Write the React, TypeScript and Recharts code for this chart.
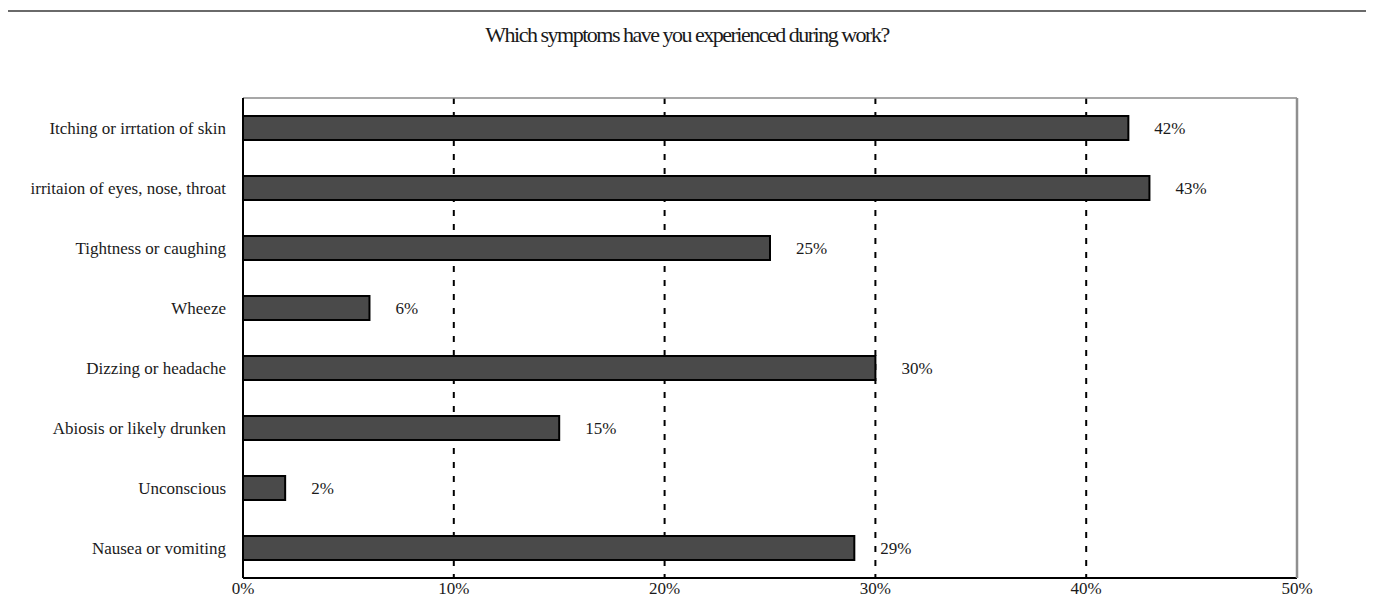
import React from "react";
import { BarChart, Bar, XAxis, YAxis, CartesianGrid, LabelList } from "recharts";

const symptoms = [
  "Itching or irrtation of skin",
  "irritaion of eyes, nose, throat",
  "Tightness or caughing",
  "Wheeze",
  "Dizzing or headache",
  "Abiosis or likely drunken",
  "Unconscious",
  "Nausea or vomiting",
];
const shares = [42, 43, 25, 6, 30, 15, 2, 29];
const percentTicks = [0, 10, 20, 30, 40, 50];
const bandEdges = [0, 1, 2, 3, 4, 5, 6, 7, 8];

const data = symptoms.map((name, i) => ({ name, value: shares[i] }));

const serif = "'Liberation Serif', 'Times New Roman', serif";
const pct = (v: number) => `${v}%`;
const textStyle = { fill: "#1a1a1a", fontFamily: serif, fontSize: 17 };

export default function SymptomsChart() {
  return (
    <div
      style={{
        position: "relative",
        width: 1374,
        height: 600,
        margin: "-8px 0 0 -8px",
        background: "#fff",
        overflow: "hidden",
        fontFamily: serif,
      }}
    >
      <div
        style={{
          position: "absolute",
          left: 6,
          top: 10,
          width: 1359,
          height: 600,
          border: "2px solid #6a6a6a",
        }}
      />
      <div
        style={{
          position: "absolute",
          top: 22,
          left: 0,
          width: 1374,
          textAlign: "center",
          fontSize: 22,
          letterSpacing: -1.5,
          color: "#1a1a1a",
        }}
      >
        Which symptoms have you experienced during work?
      </div>
      <BarChart
        width={1374}
        height={600}
        data={data}
        layout="vertical"
        margin={{ top: 98, right: 77, bottom: 0, left: 0 }}
        style={{ position: "absolute", left: 0, top: 0, fontFamily: serif }}
      >
        {/* dashed guides at every percent step; the ends sit under the axis lines */}
        <CartesianGrid horizontal={false} stroke="#000" strokeWidth={2} strokeDasharray="6 8" />
        <XAxis
          type="number"
          domain={[0, 50]}
          ticks={percentTicks}
          tickFormatter={pct}
          height={22}
          axisLine={{ stroke: "#000", strokeWidth: 2 }}
          tickLine={false}
          tickSize={0}
          tickMargin={4}
          tick={textStyle}
        />
        <XAxis
          xAxisId="inner"
          type="number"
          domain={[0, 50]}
          ticks={percentTicks}
          mirror
          axisLine={false}
          tick={false}
          tickSize={5}
          tickLine={{ stroke: "#000", strokeWidth: 2 }}
        />
        <XAxis
          xAxisId="top"
          orientation="top"
          type="number"
          domain={[0, 50]}
          mirror
          axisLine={{ stroke: "#8a8a8a", strokeWidth: 1.5 }}
          tick={false}
          tickLine={false}
        />
        <YAxis
          type="category"
          dataKey="name"
          width={243}
          axisLine={{ stroke: "#000", strokeWidth: 2 }}
          tickLine={false}
          tickSize={0}
          tickMargin={17}
          tick={textStyle}
        />
        <YAxis
          yAxisId="edges"
          type="number"
          domain={[0, 8]}
          ticks={bandEdges}
          mirror
          width={5}
          axisLine={false}
          tick={false}
          tickSize={5}
          tickLine={{ stroke: "#000", strokeWidth: 2 }}
        />
        <YAxis
          yAxisId="right"
          orientation="right"
          type="number"
          domain={[0, 8]}
          mirror
          axisLine={{ stroke: "#8f8f8f", strokeWidth: 2.5 }}
          tick={false}
          tickLine={false}
        />
        <Bar dataKey="value" fill="#4a4a4a" stroke="#000" strokeWidth={2} barSize={24} isAnimationActive={false}>
          <LabelList dataKey="value" position="right" offset={26} formatter={pct} style={textStyle} />
        </Bar>
      </BarChart>
    </div>
  );
}
